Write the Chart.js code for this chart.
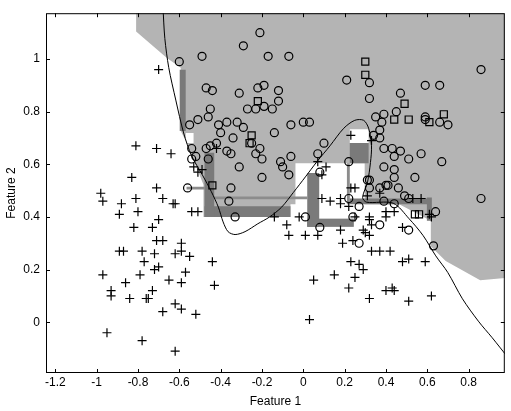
<!DOCTYPE html>
<html><head><meta charset="utf-8">
<script src="https://cdn.jsdelivr.net/npm/chart.js@4/dist/chart.umd.min.js"></script>
<style>html,body{margin:0;padding:0;background:#fff}</style>
</head><body>
<canvas id="c" width="511" height="411"></canvas>
<script>
// axis ticks
const xTicks=[-1.2,-1,-0.8,-0.6,-0.4,-0.2,0,0.2,0.4,0.6,0.8];
const yTicks=[0,0.2,0.4,0.6,0.8,1];

// class 1 (circles)
const circX=[-0.21,-0.29,-0.49,-0.60,-0.17,-0.07,-0.47,-0.44,-0.31,-0.22,-0.19,-0.12,-0.12,0.21,0.32,0.47,0.59,0.66,0.86,0.32,
 0.45,0.39,0.35,0.59,0.59,0.66,0.70,-0.23,-0.19,-0.15,-0.27,-0.06,0.03,-0.14,-0.25,-0.21,-0.23,-0.20,-0.06,-0.11,
 -0.10,-0.07,-0.20,0.10,0.07,0.08,0.22,0.37,0.37,0.34,0.39,0.43,0.47,0.44,0.51,0.57,0.67,0.39,0.44,0.54,
 0.44,0.41,0.46,0.37,0.32,0.86,-0.45,-0.46,-0.51,-0.55,-0.41,-0.37,-0.32,-0.29,-0.40,-0.34,-0.42,-0.45,-0.37,-0.35,
 -0.54,-0.47,-0.46,-0.52,-0.54,-0.31,0.00,-0.56,-0.35,-0.36,-0.33,0.01,0.08,0.24,0.27,0.37,0.51,0.63,0.64,0.31,
 0.32,0.40,0.49,0.51,0.22,0.27,0.39,0.44,0.38];
const circY=[1.10,1.05,1.01,0.99,1.01,1.01,0.89,0.88,0.87,0.89,0.90,0.88,0.84,0.92,0.91,0.87,0.90,0.90,0.96,0.85,
 0.80,0.79,0.78,0.78,0.77,0.76,0.75,0.81,0.82,0.81,0.81,0.75,0.76,0.72,0.68,0.66,0.64,0.62,0.63,0.61,
 0.59,0.56,0.55,0.68,0.64,0.57,0.61,0.73,0.70,0.71,0.66,0.66,0.65,0.63,0.62,0.64,0.61,0.59,0.58,0.55,
 0.55,0.52,0.51,0.51,0.54,0.47,0.81,0.78,0.77,0.75,0.75,0.76,0.76,0.74,0.72,0.70,0.68,0.67,0.65,0.64,
 0.66,0.66,0.62,0.63,0.62,0.59,0.76,0.51,0.51,0.46,0.40,0.40,0.36,0.40,0.30,0.37,0.35,0.29,0.42,0.54,
 0.51,0.52,0.48,0.47,0.47,0.44,0.46,0.45,0.76];

// class 2 (crosses)
const plusX=[-0.70,-0.81,-0.71,-0.64,-0.83,-0.71,-0.53,-0.51,-0.49,-0.42,
 -0.98,-0.97,-0.88,-0.81,-0.68,-0.63,-0.89,-0.80,-0.82,-0.73,
 -0.70,-0.71,-0.68,-0.89,-0.87,-0.78,-0.77,-0.72,-0.70,-0.72,
 -0.62,-0.59,-0.59,-0.55,-0.97,-0.79,-0.86,-0.93,-0.93,-0.84,
 -0.73,-0.76,-0.75,-0.65,-0.59,-0.57,-0.68,-0.62,-0.59,-0.52,
 -0.44,-0.43,-0.95,-0.78,-0.62,-0.54,-0.51,-0.62,
 -0.14,-0.08,-0.07,-0.02,0.01,0.07,0.18,0.19,0.24,0.29,
 0.30,0.32,0.33,0.37,0.42,0.23,0.27,0.29,0.25,0.15,
 0.05,0.22,0.32,0.40,0.43,0.44,0.51,0.62,0.48,0.51,
 0.59,0.03,0.48,0.62,0.44,0.40,0.40,0.32,0.25,0.23,
 0.09,0.13,0.18,0.18,0.22,0.25,0.32,0.33,0.57,0.61,
 0.23,0.33,0.07,0.11,0.09,0.37,0.31,0.53];
const plusY=[0.96,0.67,0.66,0.64,0.55,0.51,0.59,0.57,0.58,0.66,
 0.49,0.46,0.45,0.47,0.47,0.45,0.41,0.42,0.36,0.36,
 0.39,0.31,0.31,0.27,0.27,0.27,0.23,0.26,0.21,0.20,
 0.26,0.30,0.27,0.25,0.18,0.18,0.15,0.12,0.10,0.09,
 0.12,0.09,0.09,0.16,0.15,0.19,0.04,0.07,0.05,0.03,
 0.23,0.14,-0.04,-0.07,-0.11,0.42,0.42,0.45,
 0.40,0.37,0.33,0.40,0.33,0.33,0.35,0.30,0.31,0.35,
 0.34,0.33,0.27,0.27,0.27,0.23,0.22,0.20,0.17,0.18,
 0.16,0.13,0.09,0.12,0.13,0.12,0.08,0.10,0.23,0.24,
 0.23,0.01,0.36,0.40,0.42,0.42,0.40,0.40,0.51,0.51,
 0.47,0.46,0.47,0.45,0.44,0.40,0.39,0.37,0.47,0.41,
 0.71,0.69,0.61,0.59,0.56,0.49,0.48,0.47];

// squares
const sqX=[-0.22,0.30,0.30,0.49,0.44,0.51,0.61,0.68,-0.25,-0.26,-0.44,0.54,0.56];
const sqY=[0.84,0.99,0.94,0.83,0.77,0.77,0.76,0.79,0.71,0.68,0.52,0.41,0.41];

// decision curve
const curveX=[-0.679,-0.670,-0.651,-0.617,-0.579,-0.541,-0.488,-0.445,-0.411,-0.388,-0.364,-0.330,-0.282,-0.220,-0.163,-0.105,-0.048,0.010,0.067,0.129,
 0.196,0.249,0.292,0.316,0.330,0.325,0.311,0.287,0.306,0.435,0.512,0.579,0.641,0.699,0.770,0.847,0.914,0.986];
const curveY=[1.196,1.078,0.967,0.844,0.719,0.633,0.559,0.496,0.437,0.381,0.344,0.333,0.344,0.374,0.400,0.437,0.493,0.552,0.611,0.670,
 0.737,0.767,0.767,0.737,0.670,0.607,0.533,0.474,0.456,0.452,0.393,0.330,0.252,0.189,0.089,0.004,-0.059,-0.130];

// light gray region outline
const regionX=[-0.809,1.0,1.0,0.856,0.689,0.617,0.617,0.464,0.244,0.244,0.019,0.019,-0.062,-0.062,-0.483,-0.483,-0.507,-0.541,-0.569,-0.593,-0.593,-0.660,-0.809,-0.809];
const regionY=[1.2,1.2,0.170,0.159,0.233,0.289,0.385,0.448,0.448,0.363,0.363,0.448,0.448,0.400,0.400,0.522,0.570,0.633,0.689,0.726,0.967,1.004,1.104,1.2];

// boxes [x0,x1,y0,y1]
const whiteBoxes=[[-0.038,0.297,0.393,0.604],[0.225,0.316,0.681,0.733],[-0.569,-0.531,0.681,0.719]];
const darkBoxes=[[-0.598,-0.569,0.726,0.959],[-0.478,-0.431,0.400,0.644],[-0.478,-0.062,0.400,0.441],
 [0.019,0.077,0.363,0.567],[0.019,0.244,0.363,0.393],[0.225,0.316,0.604,0.681],
 [0.225,0.608,0.448,0.470],[0.598,0.622,0.385,0.474]];
const midBoxes=[[-0.565,-0.478,0.504,0.515],[-0.431,0.019,0.467,0.478],[0.211,0.225,0.448,0.604]];

const pts=(xs,ys)=>xs.map((x,i)=>({x,y:ys[i]}));
const box=b=>[{x:b[0],y:b[2]},{x:b[1],y:b[2]},{x:b[1],y:b[3]},{x:b[0],y:b[3]},{x:b[0],y:b[2]}];
const shape=(data,color,order)=>({data,showLine:true,fill:'shape',backgroundColor:color,
  borderColor:'rgba(0,0,0,0)',borderWidth:0,pointRadius:0,tension:0,order});

const LIGHT='#b4b4b4', DARK='#7a7a7a', MID='#8c8c8c';

const datasets=[
 {data:pts(circX,circY),pointStyle:'circle',pointRadius:4,borderColor:'#000',borderWidth:1.2,backgroundColor:'rgba(0,0,0,0)',order:0},
 {data:pts(plusX,plusY),pointStyle:'cross',pointRadius:4.5,borderColor:'#000',borderWidth:1.2,order:0},
 {data:pts(sqX,sqY),pointStyle:'rect',pointRadius:5,borderColor:'#000',borderWidth:1.2,backgroundColor:'rgba(0,0,0,0)',order:0},
 {data:pts(curveX,curveY),showLine:true,borderColor:'#000',borderWidth:1,pointRadius:0,tension:0.3,fill:false,order:1},
 ...darkBoxes.map(b=>shape(box(b),DARK,2)),
 ...midBoxes.map(b=>shape(box(b),MID,2)),
 ...whiteBoxes.map(b=>shape(box(b),'#fff',3)),
 shape(pts(regionX,regionY),LIGHT,4)
];

const frame={id:'frame',afterDraw(chart){
 const {ctx,chartArea:a,scales:{x,y}}=chart;
 ctx.save();ctx.strokeStyle='#000';ctx.lineWidth=1;
 ctx.strokeRect(a.left+0.5,a.top+0.5,a.right-a.left-1,a.bottom-a.top-1);
 ctx.beginPath();
 xTicks.forEach(v=>{const p=Math.round(x.getPixelForValue(v))+0.5;
  ctx.moveTo(p,a.bottom);ctx.lineTo(p,a.bottom-4);ctx.moveTo(p,a.top);ctx.lineTo(p,a.top+4);});
 yTicks.forEach(v=>{const p=Math.round(y.getPixelForValue(v))+0.5;
  ctx.moveTo(a.left,p);ctx.lineTo(a.left+4,p);ctx.moveTo(a.right,p);ctx.lineTo(a.right-4,p);});
 ctx.stroke();ctx.restore();
}};

const font={family:'"Liberation Sans", Arial, sans-serif',size:12};
const fmt=v=>String(+(+v).toFixed(2));

new Chart(document.getElementById('c'),{
 type:'scatter',
 data:{datasets},
 plugins:[frame],
 options:{
  responsive:false,animation:false,
  layout:{padding:{top:4,right:1,left:0,bottom:0}},
  plugins:{legend:{display:false},tooltip:{enabled:false}},
  scales:{
   x:{type:'linear',min:-1.245,max:0.975,
    afterBuildTicks:s=>{s.ticks=xTicks.map(value=>({value}));},
    afterFit:s=>{s.height=38;},
    grid:{display:false,drawTicks:false},border:{display:false},
    ticks:{font,color:'#000',padding:2,callback:fmt,maxRotation:0,autoSkip:false},
    title:{display:true,text:'Feature 1',font,color:'#000',padding:{top:0,bottom:2}}},
   y:{type:'linear',min:-0.193,max:1.174,
    afterBuildTicks:s=>{s.ticks=yTicks.map(value=>({value}));},
    afterFit:s=>{s.width=46;},
    grid:{display:false,drawTicks:false},border:{display:false},
    ticks:{font,color:'#000',padding:6,callback:fmt,autoSkip:false},
    title:{display:true,text:'Feature 2',font,color:'#000',padding:{top:4,bottom:0}}}
  }
 }
});
</script>
</body></html>
